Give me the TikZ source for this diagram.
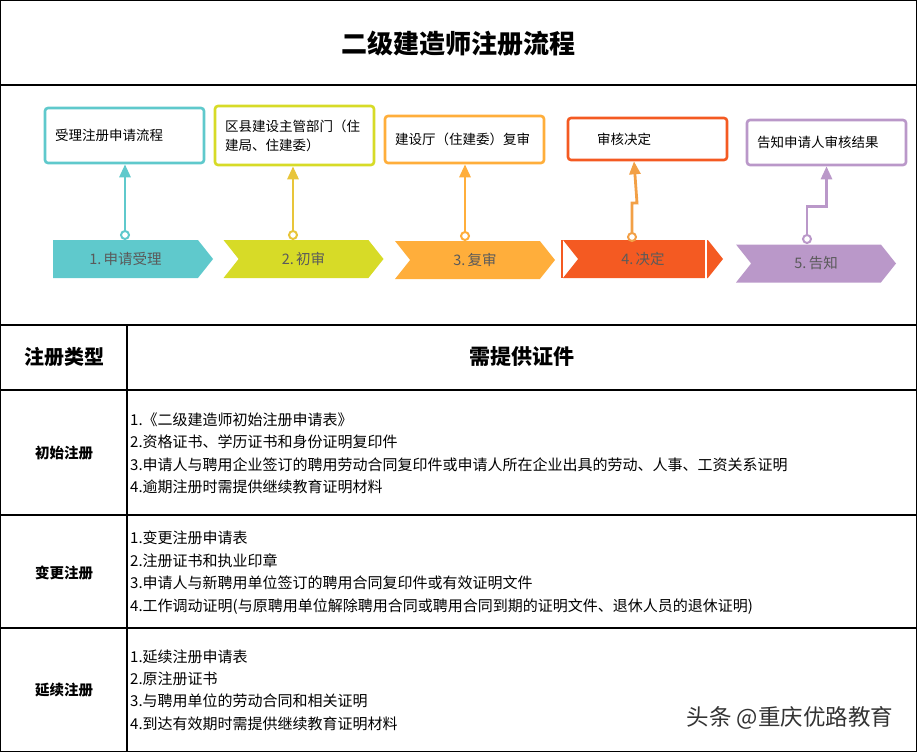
\documentclass[tikz,border=0pt]{standalone}
\usepackage{fontspec}
\setmainfont{Noto Sans CJK SC}
\usetikzlibrary{positioning,arrows.meta,calc,shapes.symbols}
\definecolor{StepCyan}{HTML}{5FC9CC}
\definecolor{StepLime}{HTML}{D7DB27}
\definecolor{StepGold}{HTML}{E8C53A}
\definecolor{StepOrange}{HTML}{FFAE3B}
\definecolor{StepRed}{HTML}{F45A22}
\definecolor{StepAmber}{HTML}{F2A046}
\definecolor{StepPurple}{HTML}{BA98C9}
\definecolor{TagText}{HTML}{5A5A5A}
\tikzset{
  stepbox/.style={draw=#1,line width=2.6pt,rounded corners=3pt,fill=white,
    minimum width=159pt,text width=139pt,inner xsep=10pt,inner ysep=0pt,
    align=left,font=\fontsize{13.5}{19}\selectfont},
  tag/.style={signal,signal to=east,signal pointer angle=103,fill=#1,draw=none,
    minimum width=160pt,minimum height=38pt,inner sep=0pt,
    font=\fontsize{14.5}{16}\selectfont,text=TagText},
  notched/.style={signal from=west},
  link/.style={line width=2.8pt,draw=#1,-{Triangle[length=13pt,width=11pt]}},
  dot/.style={circle,draw=#1,line width=2pt,fill=white,minimum size=8pt,inner sep=0pt},
  grid/.style={line width=1.4pt,draw=black},
  rowhead/.style={font=\fontsize{14.5}{17}\selectfont\bfseries},
  rowbody/.style={anchor=west,align=left,inner sep=0pt,font=\fontsize{15}{22.4}\selectfont}
}
\begin{document}
\begin{tikzpicture}[x=1pt,y=-1pt]
  \useasboundingbox (0,0) rectangle (917,752);
  % frame and table rules
  \draw[grid] (0.7,0.7) rectangle (916.3,751.3);
  \draw[grid] (0,85) -- (917,85);
  \draw[grid] (0,325) -- (917,325);
  \draw[grid] (0,390) -- (917,390);
  \draw[grid] (0,515) -- (917,515);
  \draw[grid] (0,628) -- (917,628);
  \draw[grid] (127,325) -- (127,752);

  \node[font=\fontsize{26}{30}\selectfont\bfseries] (title) at (458,44) {二级建造师注册流程};

  % step boxes
  \node[stepbox=StepCyan,minimum height=55pt] (box1) at (124.5,135.5) {受理注册申请流程};
  \node[stepbox=StepLime,minimum height=59pt] (box2) at (294.5,135.5) {区县建设主管部门（住\\建局、住建委）};
  \node[stepbox=StepOrange,minimum height=47pt] (box3) at (464.5,139.5) {建设厅（住建委）复审};
  \node[stepbox=StepRed,minimum height=42pt] (box4) at (647.5,139) {\hspace*{19pt}审核决定};
  \node[stepbox=StepPurple,minimum height=45pt] (box5) at (826.5,142.5) {告知申请人审核结果};

  % chevrons
  \node[tag=StepCyan] (tag1) at (125.5,259) {1.\,申请受理};
  \node[tag=StepLime,notched] (tag2) at (303.5,259) {2.\,初审};
  \node[tag=StepOrange,notched] (tag3) at (475,260) {3.\,复审};
  \node[tag=StepRed,notched] (tag4) at (643,259) {4.\,决定};
  \fill[StepRed] (560.5,240) rectangle (562.5,278);
  \fill[white] (704.5,239) rectangle (707,279);
  \node[tag=StepPurple,notched] (tag5) at (816,263.5) {5.\,告知};

  % connectors
  \draw[link=StepCyan] (125,235) -- (box1.south -| 125,0);
  \draw[link=StepGold] (293,235) -- (box2.south -| 293,0);
  \draw[link=StepOrange] (465,236) -- (box3.south -| 465,0);
  \draw[link=StepAmber] (632,237) -- (632,203) -- (637,203) -- ($(box4.south)+(-13.5,0)$);
  \draw[link=StepPurple] (807,239) |- ($(box5.south)+(0,40)$) -- (box5.south);
  \node[dot=StepCyan] (p1) at (125,235) {};
  \node[dot=StepGold] (p2) at (293,235) {};
  \node[dot=StepOrange] (p3) at (465,236) {};
  \node[dot=StepAmber] (p4) at (632,237) {};
  \node[dot=StepPurple] (p5) at (807,239) {};

  % table
  \node[font=\fontsize{20}{24}\selectfont\bfseries] (headtype) at (64,357) {注册类型};
  \node[font=\fontsize{21}{24}\selectfont\bfseries] (headdocs) at (522,357) {需提供证件};

  \node[rowhead] (kind1) at (64,453.5) {初始注册};
  \node[rowbody] (list1) at (130,453.5) {1.《二级建造师初始注册申请表》\\2.资格证书、学历证书和身份证明复印件\\3.申请人与聘用企业签订的聘用劳动合同复印件或申请人所在企业出具的劳动、人事、工资关系证明\\4.逾期注册时需提供继续教育证明材料};
  \node[rowhead] (kind2) at (64,572.5) {变更注册};
  \node[rowbody] (list2) at (130,572.5) {1.变更注册申请表\\2.注册证书和执业印章\\3.申请人与新聘用单位签订的聘用合同复印件或有效证明文件\\4.工作调动证明(与原聘用单位解除聘用合同或聘用合同到期的证明文件、退休人员的退休证明)};
  \node[rowhead] (kind3) at (64,690) {延续注册};
  \node[rowbody] (list3) at (130,690) {1.延续注册申请表\\2.原注册证书\\3.与聘用单位的劳动合同和相关证明\\4.到达有效期时需提供继续教育证明材料};

  \node[font=\fontsize{22.5}{26}\selectfont,text=black!80] (mark) at (790,718) {头条 @重庆优路教育};
\end{tikzpicture}
\end{document}
